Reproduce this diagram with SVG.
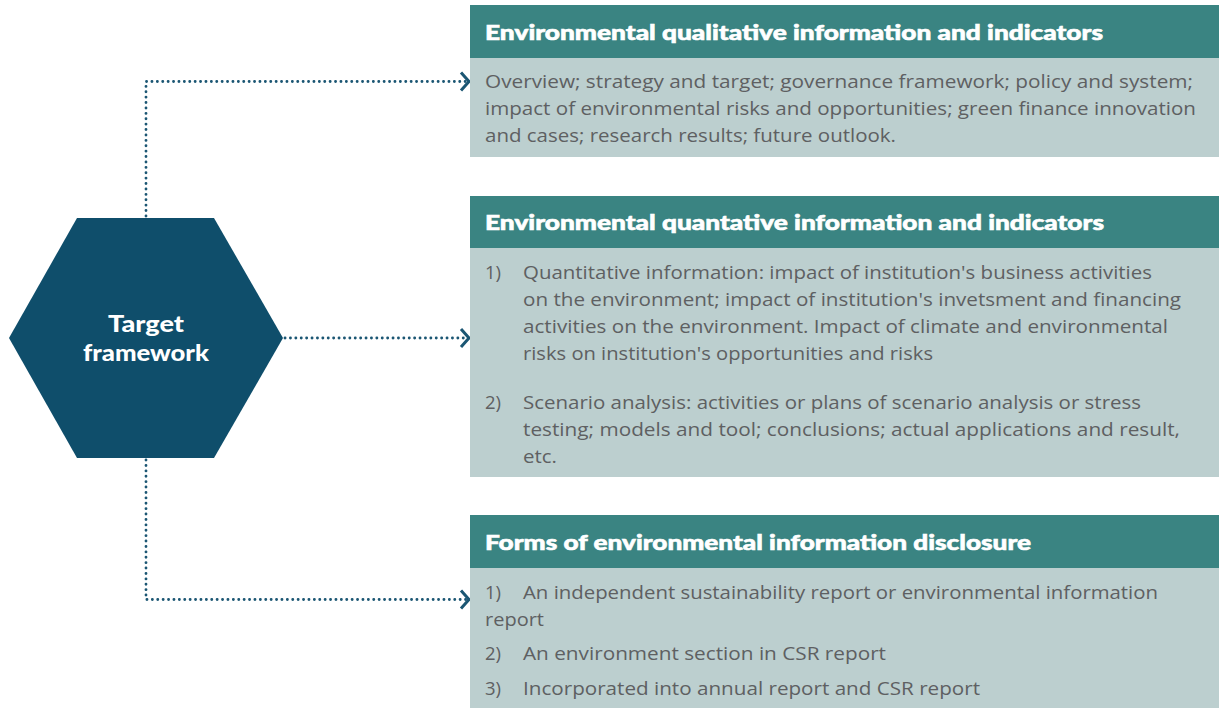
<svg xmlns="http://www.w3.org/2000/svg" width="1219" height="708" viewBox="0 0 1219 708">
<defs>
<style>
.hdr{fill:#3a8482}
.body{fill:#bccfcf}
.ht{font-family:"Lato","Open Sans",sans-serif;font-weight:900;font-size:21px;fill:#ffffff;stroke:#ffffff;stroke-width:0.6}
.bt{font-family:"Open Sans","Lato",sans-serif;font-size:18.5px;fill:#5e6062}
.hex{fill:#0f4e6b}
.hxt{font-family:"Lato","Open Sans",sans-serif;font-weight:900;font-size:22px;fill:#ffffff}
.conn{fill:none;stroke:#1b5673;stroke-width:2.8;stroke-dasharray:0.1 5.3;stroke-linecap:round}
.chev{fill:none;stroke:#1b5673;stroke-width:3;stroke-linejoin:miter}
</style>
</defs>
<rect width="1219" height="708" fill="#ffffff"/>

<g id="connectors">
<path class="conn" d="M146,216 V81.5 H466"/>
<path class="conn" d="M285,338 H466"/>
<path class="conn" d="M146,460 V599.5 H466"/>
<path class="chev" d="M461,72.5 L469,81.5 L461,90.5"/>
<path class="chev" d="M461,329 L469,338 L461,347"/>
<path class="chev" d="M461,590.5 L469,599.5 L461,608.5"/>
</g>

<g id="target-framework">
<polygon class="hex" points="77,218 214,218 283,338 214,458 77,458 9,338"/>
<text class="hxt" x="108" y="332" textLength="76" lengthAdjust="spacingAndGlyphs">Target</text>
<text class="hxt" x="83" y="361" textLength="126" lengthAdjust="spacingAndGlyphs">framework</text>
</g>

<g id="qualitative">
<rect class="hdr" x="470" y="5" width="749" height="53"/>
<rect class="body" x="470" y="58" width="749" height="99"/>
<text class="ht" x="485" y="40" textLength="618" lengthAdjust="spacingAndGlyphs">Environmental qualitative information and indicators</text>
<text class="bt" x="485" y="88" textLength="708" lengthAdjust="spacingAndGlyphs">Overview; strategy and target; governance framework; policy and system;</text>
<text class="bt" x="485" y="115" textLength="711" lengthAdjust="spacingAndGlyphs">impact of environmental risks and opportunities; green finance innovation</text>
<text class="bt" x="485" y="142" textLength="411" lengthAdjust="spacingAndGlyphs">and cases; research results; future outlook.</text>
</g>

<g id="quantative">
<rect class="hdr" x="470" y="196" width="749" height="52"/>
<rect class="body" x="470" y="248" width="749" height="229"/>
<text class="ht" x="485" y="230" textLength="619" lengthAdjust="spacingAndGlyphs">Environmental quantative information and indicators</text>
<text class="bt" x="485" y="279">1)</text>
<text class="bt" x="523" y="279" textLength="629" lengthAdjust="spacingAndGlyphs">Quantitative information: impact of institution's business activities</text>
<text class="bt" x="523" y="306" textLength="658" lengthAdjust="spacingAndGlyphs">on the environment; impact of institution's invetsment and financing</text>
<text class="bt" x="523" y="333" textLength="645" lengthAdjust="spacingAndGlyphs">activities on the environment. Impact of climate and environmental</text>
<text class="bt" x="523" y="360" textLength="410" lengthAdjust="spacingAndGlyphs">risks on institution's opportunities and risks</text>
<text class="bt" x="485" y="409">2)</text>
<text class="bt" x="523" y="409" textLength="618" lengthAdjust="spacingAndGlyphs">Scenario analysis: activities or plans of scenario analysis or stress</text>
<text class="bt" x="523" y="436" textLength="657" lengthAdjust="spacingAndGlyphs">testing; models and tool; conclusions; actual applications and result,</text>
<text class="bt" x="523" y="463" textLength="34" lengthAdjust="spacingAndGlyphs">etc.</text>
</g>

<g id="forms">
<rect class="hdr" x="470" y="515" width="749" height="53"/>
<rect class="body" x="470" y="568" width="749" height="140"/>
<text class="ht" x="485" y="550" textLength="546" lengthAdjust="spacingAndGlyphs">Forms of environmental information disclosure</text>
<text class="bt" x="485" y="599">1)</text>
<text class="bt" x="523" y="599" textLength="635" lengthAdjust="spacingAndGlyphs">An independent sustainability report or environmental information</text>
<text class="bt" x="485" y="626" textLength="59" lengthAdjust="spacingAndGlyphs">report</text>
<text class="bt" x="485" y="660">2)</text>
<text class="bt" x="523" y="660" textLength="363" lengthAdjust="spacingAndGlyphs">An environment section in CSR report</text>
<text class="bt" x="485" y="695">3)</text>
<text class="bt" x="523" y="695" textLength="457" lengthAdjust="spacingAndGlyphs">Incorporated into annual report and CSR report</text>
</g>
</svg>
